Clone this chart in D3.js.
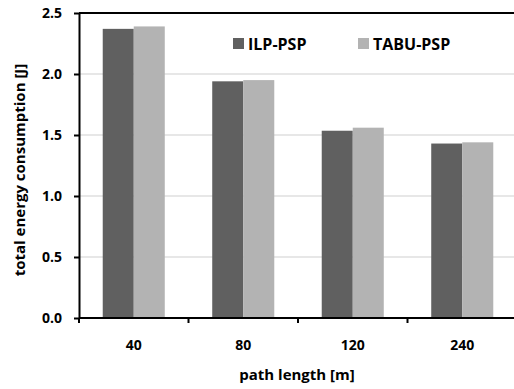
<!DOCTYPE html>
<html>
<head>
    <script src="https://d3js.org/d3.v7.min.js"></script>
    <style>
        body { margin: 0; background: #fff; font-family: "Open Sans", sans-serif; }
        svg { display: block; }
    </style>
</head>
<body>
<svg id="chart"></svg>
<script>
const categories = ["40", "80", "120", "240"];
const seriesNames = ["ILP-PSP", "TABU-PSP"];
const ilpValues = [2.37, 1.94, 1.535, 1.43];
const tabuValues = [2.39, 1.95, 1.56, 1.44];
const yTicks = [0, 0.5, 1.0, 1.5, 2.0, 2.5];

const width = 514, height = 389;
const margin = { top: 13, right: -3, bottom: 71, left: 79 };

const color = d3.scaleOrdinal().domain(seriesNames).range(["#606060", "#b3b3b3"]);

const data = categories.map((c, i) => ({
    cat: c,
    values: [
        { key: seriesNames[0], value: ilpValues[i] },
        { key: seriesNames[1], value: tabuValues[i] }
    ]
}));

const svg = d3.select("#chart").attr("width", width).attr("height", height);

const x = d3.scaleBand()
    .domain(categories)
    .range([margin.left, width - margin.right]);

const x1 = d3.scaleBand()
    .domain(seriesNames)
    .range([0, x.bandwidth()])
    .paddingOuter(0.765);

const y = d3.scaleLinear()
    .domain([0, 2.5])
    .range([height - margin.bottom, margin.top]);

// grid lines
svg.append("g")
    .selectAll("line")
    .data(yTicks.filter(d => d > 0 && d < 2.5))
    .join("line")
    .attr("x1", margin.left)
    .attr("x2", width)
    .attr("y1", d => y(d))
    .attr("y2", d => y(d))
    .attr("stroke", "#d0d0d0")
    .attr("stroke-width", 1.2);

// bars
svg.append("g")
    .selectAll("g")
    .data(data)
    .join("g")
    .attr("transform", d => `translate(${x(d.cat)},0)`)
    .selectAll("rect")
    .data(d => d.values)
    .join("rect")
    .attr("x", d => x1(d.key))
    .attr("y", d => y(d.value))
    .attr("width", x1.bandwidth())
    .attr("height", d => y(0) - y(d.value))
    .attr("fill", d => color(d.key));

// top border
svg.append("line")
    .attr("x1", margin.left).attr("x2", width)
    .attr("y1", y(2.5)).attr("y2", y(2.5))
    .attr("stroke", "#000").attr("stroke-width", 2);

// y axis
const yAxis = svg.append("g")
    .attr("transform", `translate(${margin.left},0)`)
    .call(d3.axisLeft(y).tickValues(yTicks).tickFormat(d3.format(".1f")).tickSize(5).tickSizeOuter(0));
yAxis.select(".domain").attr("stroke", "#000").attr("stroke-width", 2);
yAxis.selectAll(".tick line").attr("stroke", "#000").attr("stroke-width", 2);
yAxis.selectAll(".tick text")
    .attr("x", -17)
    .style("font-family", "Open Sans")
    .style("font-weight", "bold")
    .style("font-size", "14px")
    .attr("fill", "#000");

// x axis
const xAxisG = svg.append("g");
xAxisG.append("line")
    .attr("x1", margin.left).attr("x2", width)
    .attr("y1", y(0)).attr("y2", y(0))
    .attr("stroke", "#000").attr("stroke-width", 2);
xAxisG.selectAll("line.sep")
    .data(categories)
    .join("line")
    .attr("class", "sep")
    .attr("x1", d => x(d)).attr("x2", d => x(d))
    .attr("y1", y(0)).attr("y2", y(0) + 5)
    .attr("stroke", "#000").attr("stroke-width", 2);
xAxisG.selectAll("text")
    .data(categories)
    .join("text")
    .attr("x", d => x(d) + x.bandwidth() / 2)
    .attr("y", y(0) + 32)
    .attr("text-anchor", "middle")
    .style("font-weight", "bold")
    .style("font-size", "14px")
    .text(d => d);

// axis titles
svg.append("text")
    .attr("x", 297)
    .attr("y", 380)
    .attr("text-anchor", "middle")
    .style("font-weight", "bold")
    .style("font-size", "15px")
    .text("path length [m]");

svg.append("text")
    .attr("transform", `translate(25,170) rotate(-90)`)
    .attr("text-anchor", "middle")
    .style("font-weight", "bold")
    .style("font-size", "15px")
    .text("total energy consumption [J]");

// legend
const legend = svg.append("g").attr("transform", "translate(233,38)");
seriesNames.forEach((name, i) => {
    const row = legend.append("g").attr("transform", `translate(${i * 125},0)`);
    row.append("rect")
        .attr("width", 11).attr("height", 11)
        .attr("fill", color(name));
    row.append("text")
        .attr("x", 15)
        .attr("y", 12)
        .style("font-weight", "bold")
        .style("font-size", "16px")
        .text(name);
});
</script>
</body>
</html>
